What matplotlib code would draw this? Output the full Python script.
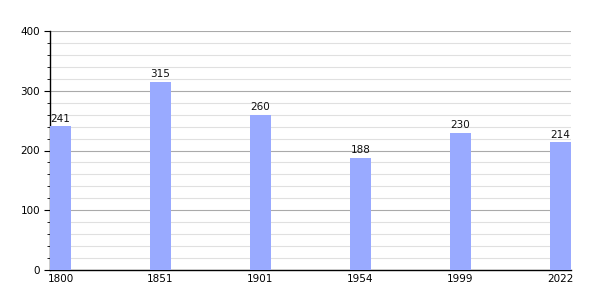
import matplotlib
matplotlib.use("Agg")
import matplotlib.pyplot as plt
from matplotlib.ticker import MultipleLocator

years = ["1800", "1851", "1901", "1954", "1999", "2022"]
population = [241, 315, 260, 188, 230, 214]

fig = plt.figure(figsize=(6, 3), dpi=100)
ax = fig.add_axes([50/600, 30/300, 521/600, 239/300])

x = list(range(len(years)))
ax.bar(x, population, width=0.21, color="#99aaff", zorder=3)
for xi, v in zip(x, population):
    ax.text(xi, v + 4, str(v), ha="center", va="bottom", fontsize=7.5, color="#111111", zorder=4)

ax.set_xlim(-0.105, len(years) - 1 + 0.105)
ax.set_ylim(0, 400)
ax.set_xticks(x)
ax.set_xticklabels(years)
ax.yaxis.set_major_locator(MultipleLocator(100))
ax.yaxis.set_minor_locator(MultipleLocator(20))
ax.grid(axis="y", which="major", color="#aaaaaa", linewidth=0.8, zorder=1)
ax.grid(axis="y", which="minor", color="#e0e0e0", linewidth=0.8, zorder=0)
ax.tick_params(axis="x", length=0, labelsize=7.5, pad=3)
ax.tick_params(axis="y", which="major", length=4, labelsize=7.5, pad=3)
ax.tick_params(axis="y", which="minor", length=2)
for s in ["top", "right"]:
    ax.spines[s].set_visible(False)
ax.spines["left"].set_linewidth(1)
ax.spines["bottom"].set_linewidth(1)

fig.savefig("out.png", dpi=100)
